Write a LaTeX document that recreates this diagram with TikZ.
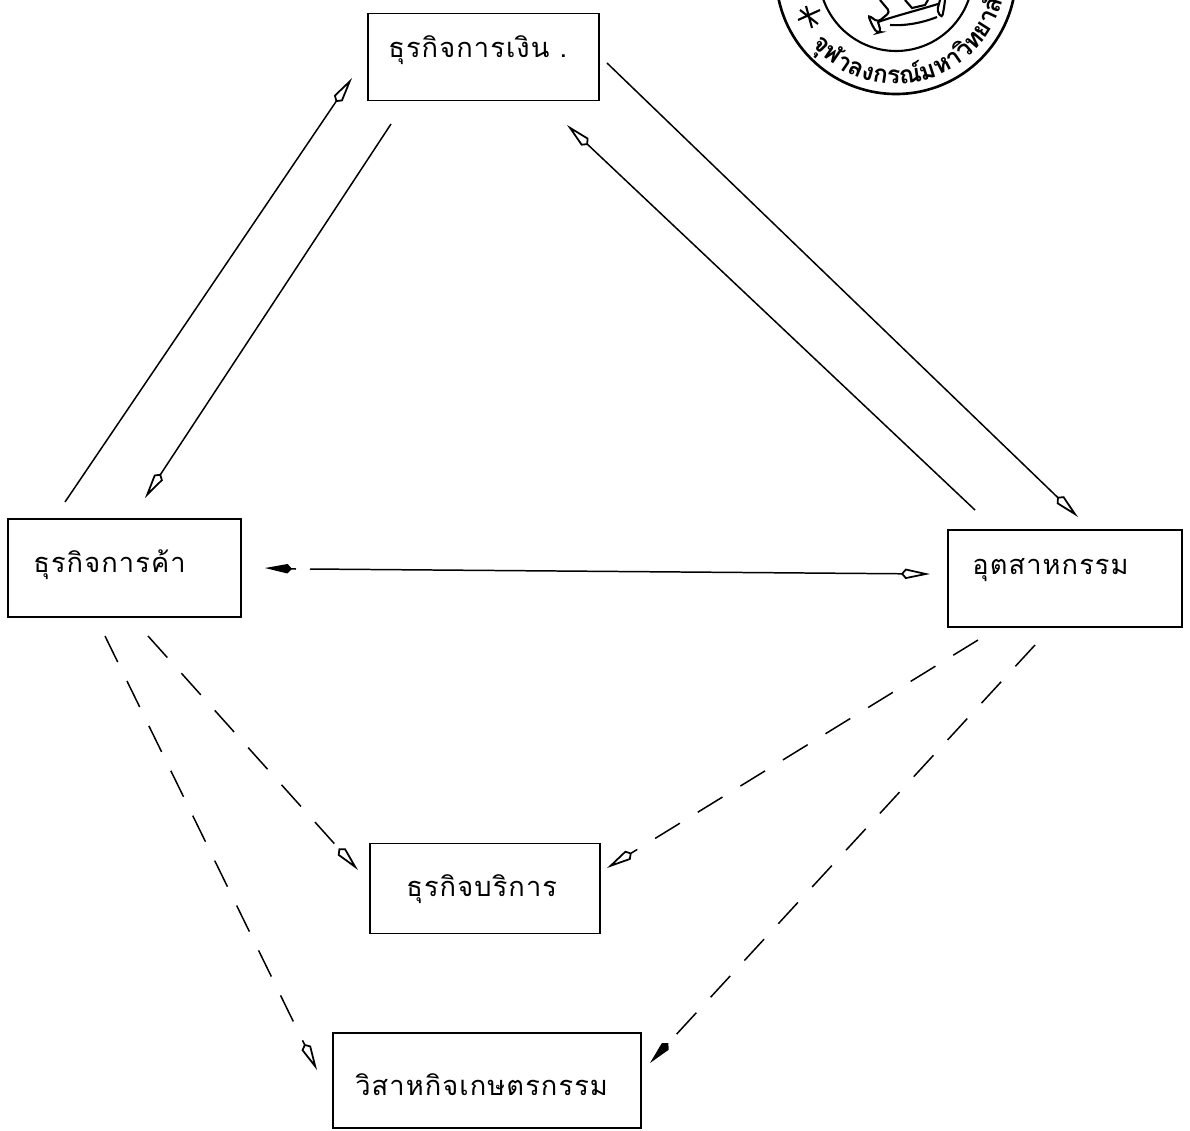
\documentclass[tikz,border=0pt]{standalone}
\usepackage{fontspec}
\newfontfamily\thaifont[Script=Thai,LetterSpace=4]{Loma}
\newfontfamily\sealfont[Script=Thai]{Loma}
\usetikzlibrary{
  arrows.meta,
  decorations.text
}
\tikzset{
  boxnode/.style={draw=black, line width=0.95pt, inner sep=0pt},
  boxtext/.style={font=\thaifont\fontsize{15.5}{18}\selectfont, inner sep=0pt},
  linkline/.style={black, line width=0.85pt, -{Kite[open, length=0.58cm, width=0.21cm, inset=0.09cm, line width=1pt]}},
  linkfill/.style={black, line width=0.85pt, -{Kite[length=0.54cm, width=0.19cm, inset=0.09cm]}},
  dashline/.style={linkline, dash pattern=on 0.58cm off 0.42cm},
  dashfill/.style={linkfill, dash pattern=on 0.58cm off 0.42cm},
  sealline/.style={black, line width=1.2pt}
}

\begin{document}
\begin{tikzpicture}[x=0.02cm, y=-0.02cm]
  \useasboundingbox (0, 0) rectangle (1190, 1130);
  \clip (0, 0) rectangle (1190, 1130);

  % Seal, cut by the top edge
  \draw[sealline, line width=1.5pt] (896, -26) circle[radius=120];
  \draw[sealline] (896, -26) circle[radius=77];
  \draw[sealline, rounded corners=2pt] (880, 0) -- (890, 12) -- (878, 22) -- (868, 15)
    -- (872, 25) -- (877, 33) -- (881, 32) -- (878, 22);
  \draw[sealline] (878, 22) .. controls (895, 16) and (915, 11) .. (938, 4);
  \draw[sealline] (890, 25) .. controls (905, 26) and (922, 23) .. (937, 17);
  \draw[sealline, rounded corners=2pt] (940, 0) -- (937, 11) -- (942, 18) -- (944, 8) -- (945, 0);
  \draw[sealline] (905, 0) -- (912, 8) -- (925, 5) -- (928, 0);
  \draw[sealline] (798, 20) -- (820, 10) (806, 6) -- (812, 28) (800, 10) -- (818, 24);
  \path[postaction={decorate}, decoration={text along path, text align=left,
        text={|\sealfont\bfseries\fontsize{14}{16}\selectfont|จุ{ฬา}ลงกร{ณ์}มหาวิทยา{ลั}ย}}]
    (896, -26) ++(140:110) arc[start angle=140, end angle=-8, radius=110];

  % Boxes
  \node[boxnode, minimum width=4.62cm, minimum height=1.74cm] (finance) at (483.5, 57) {};
  \node[boxnode, minimum width=4.66cm, minimum height=1.96cm] (trade) at (124.5, 568) {};
  \node[boxnode, minimum width=4.68cm, minimum height=1.94cm] (industry) at (1065, 578.5) {};
  \node[boxnode, minimum width=4.60cm, minimum height=1.80cm] (service) at (485, 888.5) {};
  \node[boxnode, minimum width=6.16cm, minimum height=1.90cm] (agri) at (487, 1080.5) {};

  % Box labels
  \node[boxtext, anchor=west] (financetext) at (388, 50) {ธุรกิจการเงิน .};
  \node[boxtext, anchor=west] (tradetext) at (33, 565) {ธุรกิจการค้า};
  \node[boxtext, anchor=west] (industrytext) at (972, 570) {อุตสาหกรรม};
  \node[boxtext, anchor=west] (servicetext) at (406, 889) {ธุรกิจบริการ};
  \node[boxtext, anchor=west] (agritext) at (355, 1085) {วิสาหกิจเกษตรกรรม};

  % Free ends of the connectors
  \coordinate (tradeup) at (65, 502);
  \coordinate (financeleft) at (352, 78);
  \coordinate (financedown) at (391, 124);
  \coordinate (tradein) at (145, 498);
  \coordinate (financeright) at (607, 63);
  \coordinate (industryin) at (1078, 517);
  \coordinate (industryup) at (975, 510);
  \coordinate (financein) at (567, 125);
  \coordinate (tradeeast) at (310, 569);
  \coordinate (tradegap) at (296, 569);
  \coordinate (tradeback) at (265, 568);
  \coordinate (industrywest) at (930, 574);
  \coordinate (tradeservice) at (148, 636);
  \coordinate (servicewest) at (358, 870);
  \coordinate (tradeagri) at (105, 636);
  \coordinate (agriwest) at (317, 1070);
  \coordinate (industryservice) at (978, 640);
  \coordinate (serviceeast) at (607, 868);
  \coordinate (industryagri) at (1035, 645);
  \coordinate (agrieast) at (650, 1063);

  % Solid connectors
  \draw[linkline] (tradeup) -- (financeleft);
  \draw[linkline] (financedown) -- (tradein);
  \draw[linkline] (financeright) -- (industryin);
  \draw[linkline] (industryup) -- (financein);
  \draw[linkline] (tradeeast) -- (industrywest);
  \draw[linkfill] (tradegap) -- (tradeback);

  % Dashed connectors
  \draw[dashline] (tradeservice) -- (servicewest);
  \draw[dashline] (tradeagri) -- (agriwest);
  \draw[dashline] (industryservice) -- (serviceeast);
  \draw[dashfill] (industryagri) -- (agrieast);
\end{tikzpicture}
\end{document}
